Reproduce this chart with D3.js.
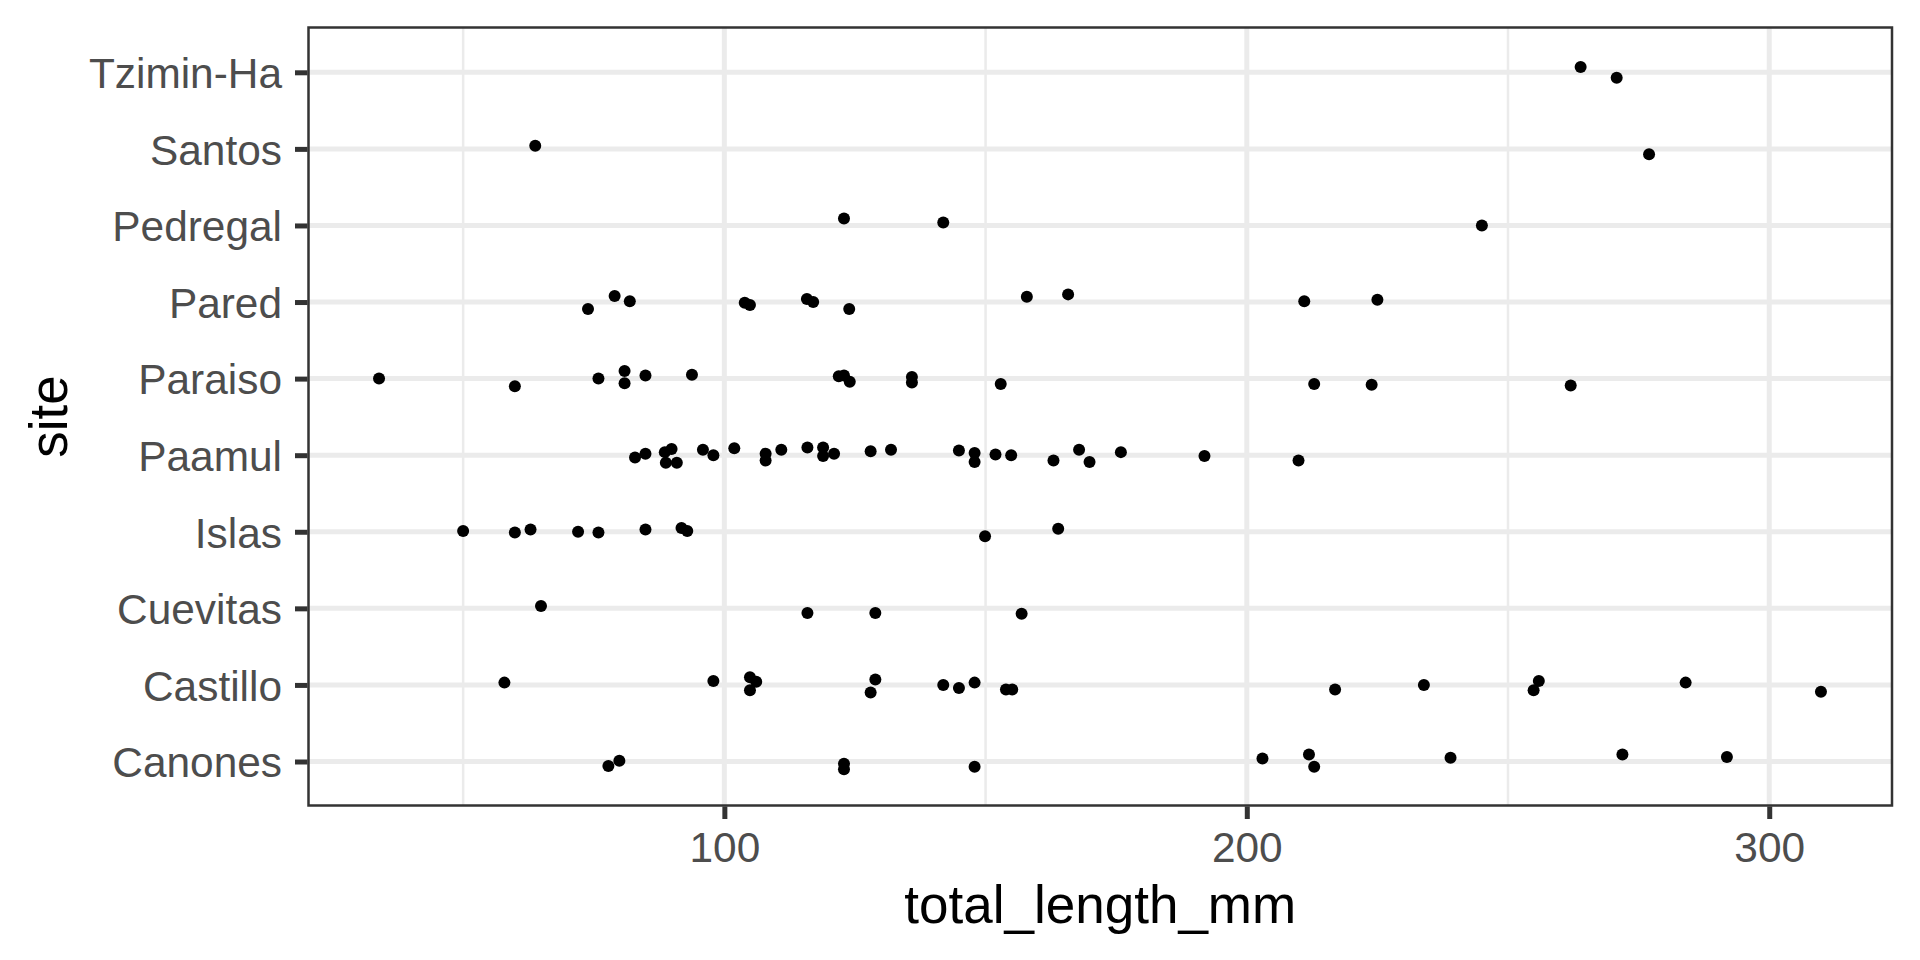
<!DOCTYPE html>
<html>
<head>
<meta charset="utf-8">
<script src="https://cdn.jsdelivr.net/npm/d3@7"></script>
<style>
  html, body { margin: 0; padding: 0; background: #ffffff; }
  svg { display: block; }
</style>
</head>
<body>
<svg id="chart" width="1920" height="960"></svg>
<script>
// ---------------- data ----------------
const sites = ["Canones", "Castillo", "Cuevitas", "Islas", "Paamul", "Paraiso", "Pared", "Pedregal", "Santos", "Tzimin-Ha"];
const xTickValues = [100, 200, 300];
const xMinorValues = [50, 150, 250];

const canonesLength = [77.8, 79.9, 122.9, 122.9, 147.9, 203.0, 211.9, 212.9, 239.0, 271.9, 291.9];
const canonesJitter = [-0.06, 0.01, -0.03, -0.10, -0.07, 0.04, 0.09, -0.07, 0.05, 0.09, 0.06];

const castilloLength = [57.9, 97.9, 104.9, 106.1, 104.9, 128.9, 128.0, 141.9, 144.9, 147.9, 153.9, 155.1, 216.9, 233.9, 254.9, 255.9, 284.0, 309.9];
const castilloJitter = [0.03, 0.05, 0.10, 0.04, -0.07, 0.07, -0.10, 0.0, -0.04, 0.03, -0.06, -0.06, -0.06, 0.0, -0.07, 0.05, 0.03, -0.09];

const cuevitasLength = [64.9, 115.9, 128.9, 156.9];
const cuevitasJitter = [0.03, -0.06, -0.06, -0.07];

const islasLength = [50.0, 59.9, 62.9, 72.0, 75.9, 84.9, 91.8, 92.9, 149.9, 163.9];
const islasJitter = [0.01, -0.01, 0.03, 0.0, -0.01, 0.03, 0.05, 0.01, -0.06, 0.04];

const paamulLength = [82.9, 84.9, 88.6, 89.9, 88.8, 90.9, 95.9, 97.9, 101.9, 107.9, 107.9, 110.9, 115.9, 118.9, 118.9, 121.0, 128.0, 131.9, 144.9, 147.9, 147.9, 151.9, 154.9, 163.0, 167.9, 169.9, 175.9, 191.9, 209.9];
const paamulJitter = [-0.03, 0.02, 0.04, 0.08, -0.10, -0.10, 0.07, 0.0, 0.09, 0.02, -0.07, 0.07, 0.10, 0.10, -0.01, 0.02, 0.05, 0.07, 0.06, 0.03, -0.09, 0.01, 0.0, -0.07, 0.07, -0.09, 0.04, -0.01, -0.07];

const paraisoLength = [33.9, 59.9, 75.9, 80.9, 80.9, 84.9, 93.8, 121.9, 122.9, 124.0, 135.9, 135.9, 152.9, 212.9, 223.9, 262.0];
const paraisoJitter = [0.0, -0.10, 0.0, 0.10, -0.06, 0.04, 0.05, 0.03, 0.04, -0.04, 0.02, -0.05, -0.07, -0.07, -0.08, -0.09];

const paredLength = [73.9, 79.0, 81.9, 103.9, 104.9, 115.8, 117.0, 123.9, 157.9, 165.8, 211.0, 225.0];
const paredJitter = [-0.09, 0.08, 0.01, -0.01, -0.04, 0.04, 0.0, -0.09, 0.07, 0.10, 0.01, 0.03];

const pedregalLength = [122.9, 141.9, 245.0];
const pedregalJitter = [0.09, 0.04, 0.0];

const santosLength = [63.8, 277.0];
const santosJitter = [0.04, -0.07];

const tziminHaLength = [263.9, 270.8];
const tziminHaJitter = [0.07, -0.07];

const lengthsBySite = [canonesLength, castilloLength, cuevitasLength, islasLength, paamulLength, paraisoLength, paredLength, pedregalLength, santosLength, tziminHaLength];
const jittersBySite = [canonesJitter, castilloJitter, cuevitasJitter, islasJitter, paamulJitter, paraisoJitter, paredJitter, pedregalJitter, santosJitter, tziminHaJitter];

const points = [];
sites.forEach((s, i) => {
  lengthsBySite[i].forEach((v, k) => points.push({ site: s, len: v, jit: jittersBySite[i][k] }));
});

// ---------------- layout ----------------
const panel = { left: 308.5, right: 1892, top: 27.5, bottom: 805.5 };
const FONT = "'Liberation Sans', Arial, Helvetica, sans-serif";

const svg = d3.select("#chart");

const x = d3.scaleLinear().domain([20.4, 323.5]).range([panel.left, panel.right]);
const y = d3.scalePoint().domain(sites).range([761.5, 72.3]).padding(0);
const step = y.step();

// panel background
svg.append("rect")
  .attr("x", panel.left).attr("y", panel.top)
  .attr("width", panel.right - panel.left).attr("height", panel.bottom - panel.top)
  .attr("fill", "#ffffff");

const grid = svg.append("g");
// minor vertical gridlines
grid.selectAll("line.minor").data(xMinorValues).join("line")
  .attr("class", "minor")
  .attr("x1", d => x(d)).attr("x2", d => x(d))
  .attr("y1", panel.top).attr("y2", panel.bottom)
  .attr("stroke", "#EBEBEB").attr("stroke-width", 2.5);
// major vertical gridlines
grid.selectAll("line.majorx").data(xTickValues).join("line")
  .attr("class", "majorx")
  .attr("x1", d => x(d)).attr("x2", d => x(d))
  .attr("y1", panel.top).attr("y2", panel.bottom)
  .attr("stroke", "#EBEBEB").attr("stroke-width", 5);
// major horizontal gridlines
grid.selectAll("line.majory").data(sites).join("line")
  .attr("class", "majory")
  .attr("x1", panel.left).attr("x2", panel.right)
  .attr("y1", d => y(d)).attr("y2", d => y(d))
  .attr("stroke", "#EBEBEB").attr("stroke-width", 5);

// points
svg.append("g").selectAll("circle").data(points).join("circle")
  .attr("cx", d => x(d.len))
  .attr("cy", d => y(d.site) - d.jit * step)
  .attr("r", 6)
  .attr("fill", "#000000");

// panel border
svg.append("rect")
  .attr("x", panel.left).attr("y", panel.top)
  .attr("width", panel.right - panel.left).attr("height", panel.bottom - panel.top)
  .attr("fill", "none").attr("stroke", "#333333").attr("stroke-width", 2.5);

// x axis
const xAxis = svg.append("g")
  .attr("transform", `translate(0,${panel.bottom})`)
  .call(d3.axisBottom(x).tickValues(xTickValues).tickSize(13.5).tickPadding(12.5).tickFormat(d3.format("d")));
xAxis.select(".domain").remove();
xAxis.selectAll(".tick line").attr("stroke", "#333333").attr("stroke-width", 5).attr("y1", 1);
xAxis.selectAll(".tick text")
  .attr("fill", "#4D4D4D").style("font-family", FONT).style("font-size", "42.4px");

// y axis
const yAxis = svg.append("g")
  .attr("transform", `translate(${panel.left},0)`)
  .call(d3.axisLeft(y).tickSize(13.5).tickPadding(13));
yAxis.select(".domain").remove();
yAxis.selectAll(".tick line").attr("stroke", "#333333").attr("stroke-width", 5).attr("x1", -1);
yAxis.selectAll(".tick text")
  .attr("fill", "#4D4D4D").attr("dy", "0.36em").style("font-family", FONT).style("font-size", "42.4px");

// axis titles
svg.append("text")
  .attr("x", (panel.left + panel.right) / 2).attr("y", 923)
  .attr("text-anchor", "middle")
  .style("font-family", FONT).style("font-size", "53px").attr("fill", "#000000")
  .text("total_length_mm");

svg.append("text")
  .attr("transform", `translate(67,${(panel.top + panel.bottom) / 2}) rotate(-90)`)
  .attr("text-anchor", "middle")
  .style("font-family", FONT).style("font-size", "53px").attr("fill", "#000000")
  .text("site");
</script>
</body>
</html>
